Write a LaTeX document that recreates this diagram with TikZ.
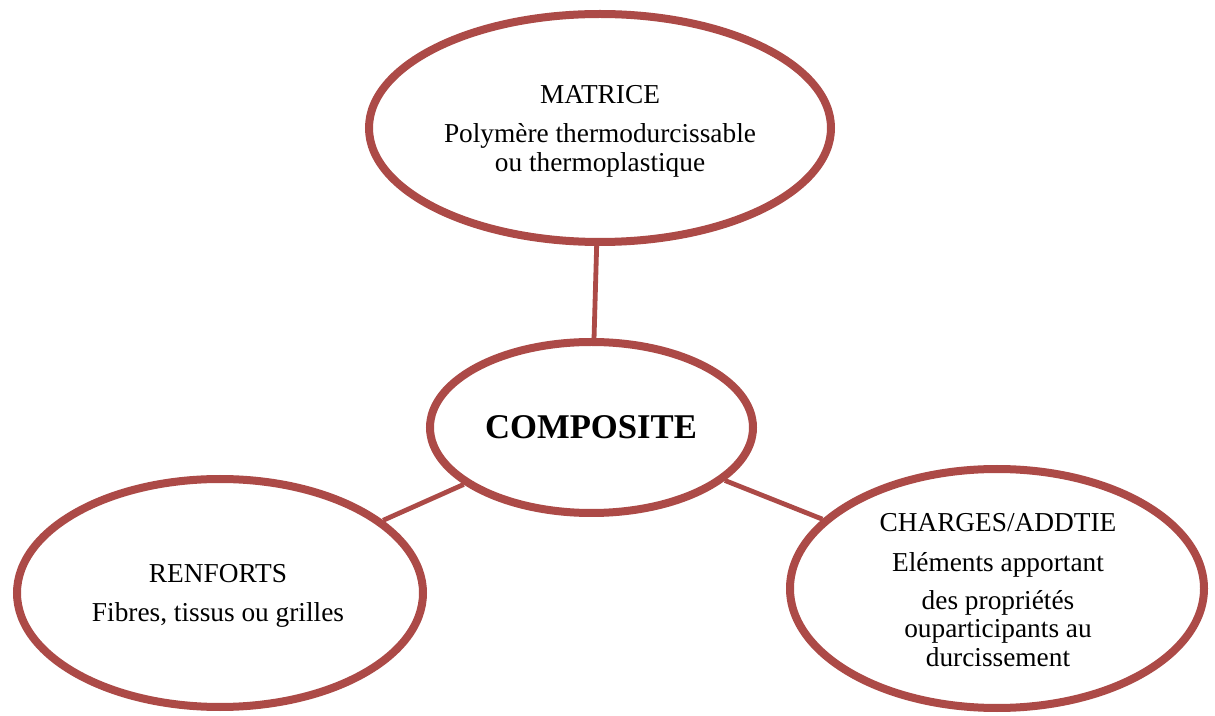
\documentclass[tikz,border=0pt]{standalone}
\usepackage{fontspec}
\setmainfont{Liberation Serif}
\usetikzlibrary{shapes.geometric,backgrounds,shadows}
\definecolor{rim}{RGB}{172,74,71}
\begin{document}
\begin{tikzpicture}[x=0.75pt,y=-0.75pt,
  bubble/.style={ellipse,draw=rim,line width=6pt,fill=white,inner sep=0pt,
    drop shadow={opacity=0.18,shadow xshift=0pt,shadow yshift=-2.5pt}},
  link/.style={draw=rim,line width=3.6pt},
  txt/.style={anchor=base,inner sep=0pt,font=\fontsize{20.5pt}{24pt}\selectfont},
  big/.style={anchor=base,inner sep=0pt,font=\fontsize{26pt}{30pt}\selectfont\bfseries}]
\useasboundingbox (0,0) rectangle (1215,716);
% ellipses
\node[bubble,minimum width=462*0.75pt,minimum height=228*0.75pt] (mat) at (600,128) {};
\node[bubble,minimum width=323*0.75pt,minimum height=171*0.75pt] (comp) at (591.5,427.5) {};
\node[bubble,minimum width=406*0.75pt,minimum height=228*0.75pt] (renf) at (220,593) {};
\node[bubble,minimum width=414*0.75pt,minimum height=239*0.75pt] (charg) at (997,588.5) {};
% connectors
\begin{scope}[on background layer]
\fill[white] (0,0) rectangle (1215,716);
\draw[link] (mat) -- (comp);
\draw[link] (renf) -- (comp);
\draw[link] (charg) -- (comp);
\end{scope}
% texts
\node[txt] (m1) at (600,104) {MATRICE};
\node[txt] (m2) at (600,143) {Polymère thermodurcissable};
\node[txt] (m3) at (600,172) {ou thermoplastique};
\node[big] (c1) at (591,439) {COMPOSITE};
\node[txt] (r1) at (218,583) {RENFORTS};
\node[txt] (r2) at (218,622) {Fibres, tissus ou grilles};
\node[txt] (h1) at (998,532) {CHARGES/ADDTIE};
\node[txt] (h2) at (998,572) {Eléments apportant};
\node[txt] (h3) at (998,610) {des propriétés};
\node[txt] (h4) at (998,638) {ouparticipants au};
\node[txt] (h5) at (998,667) {durcissement};
\end{tikzpicture}
\end{document}
